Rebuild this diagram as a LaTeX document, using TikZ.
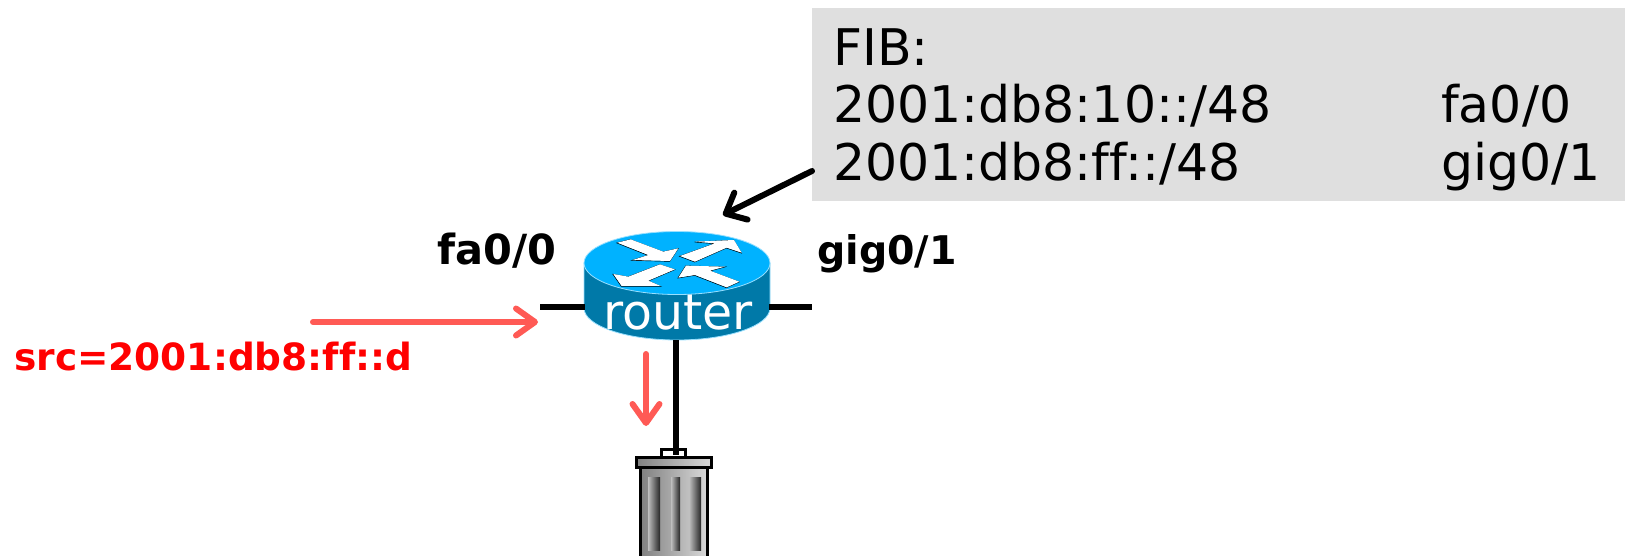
\documentclass[tikz,border=0pt]{standalone}
\usepackage{fontspec}
\setmainfont{DejaVu Sans}[Ligatures=NoCommon]
\usetikzlibrary{positioning}
\usetikzlibrary{arrows.meta}
\definecolor{fibgray}{HTML}{DFDFDF}
\definecolor{pktred}{HTML}{FF5A55}
\definecolor{routertop}{HTML}{00B2FF}
\definecolor{routerside}{HTML}{0079A8}
\newcommand{\arrowpoly}[1]{\draw[arrowshadow] #1 -- cycle; \fill[white] #1 -- cycle;}
\begin{document}
\begin{tikzpicture}[
    x=1pt,y=-1pt,
    fibtext/.style={anchor=base west,inner sep=0pt,font=\fontsize{50.5}{50}\selectfont},
    portlabel/.style={anchor=base west,inner sep=0pt,font=\fontsize{39.5}{39}\selectfont\bfseries},
    wire/.style={line width=5.5pt},
    pktarrow/.style={line width=6pt,pktred,line cap=round,-{Straight Barb[length=19pt,width=27pt,round]}},
    ptrarrow/.style={line width=6pt,line cap=round,-{Straight Barb[length=17pt,width=30pt,round]}},
    arrowshadow/.style={black,line width=.7pt,xshift=-.3pt,yshift=-.3pt},
    trashpart/.style={draw=black,line width=3pt,left color=gray!100,right color=gray!30},
    trashslot/.style={left color=gray!50,right color=black!85}
    ]

    \useasboundingbox (0,0) rectangle (1625,555);

    % fib table
    \node[fill=fibgray,minimum width=813pt,minimum height=193pt,inner sep=0pt] (fib) at (1218.5,104.5) {};
    \node[fibtext] (fibhead) at (833,65) {FIB:};
    \node[fibtext] (prefixa) at (833,122) {2001:db8:10::/48};
    \node[fibtext] (prefixb) at (833,180) {2001:db8:ff::/48};
    \node[fibtext] (porta) at (1441,122) {fa0/0};
    \node[fibtext] (portb) at (1441,180) {gig0/1};

    % router
    \fill[routerside,draw=routertop!40,line width=.8pt] (584,263) -- (584,308) arc[start angle=180,end angle=0,x radius=93,y radius=32] -- (770,263) -- cycle;
    \fill[routertop,draw=routertop!40,line width=.8pt] (677,263) ellipse[x radius=93,y radius=31.5];
    \begin{scope}[shift={(560,210)},x=.3333pt,y=-.3333pt]
      \arrowpoly{(172,98) -- (212,88) -- (310,125) -- (355,115) -- (330,153) -- (218,150) -- (265,135)}
      \arrowpoly{(360,138) -- (465,100) -- (405,95) -- (522,90) -- (545,128) -- (500,113) -- (405,155)}
      \arrowpoly{(205,200) -- (300,163) -- (345,178) -- (265,212) -- (302,228) -- (185,228) -- (160,192)}
      \arrowpoly{(355,203) -- (378,167) -- (495,170) -- (450,182) -- (538,215) -- (500,232) -- (405,195)}
    \end{scope}
    \node[anchor=base,inner sep=0pt,text=white,font=\fontsize{49}{49}\selectfont] (router) at (678,329) {router};

    % trash can
    \coordinate (trash) at (676,455);
    \draw[line width=3pt,fill=white] (661,457) rectangle (685,449);
    \shade[trashpart] (640,467) rectangle (707,557);
    \shade[trashpart] (636,457) rectangle (711,467);
    \shade[trashslot] (648,477) rectangle (660,550);
    \shade[trashslot] (671,477) rectangle (680,550);
    \shade[trashslot] (689,477) rectangle (701,550);

    % ports and wires
    \coordinate (rleft) at (585,307);
    \coordinate (rright) at (769,307);
    \coordinate (rbottom) at (676,340);
    \coordinate (wleft) at (540,307);
    \coordinate (wright) at (812,307);
    \draw[wire] (wleft) -- (rleft);
    \draw[wire] (rright) -- (wright);
    \draw[wire] (rbottom) -- (trash);

    \node[portlabel,font=\fontsize{41.5}{41}\selectfont\bfseries] (lblfa) at (437,264) {fa0/0};
    \node[portlabel] (lblgig) at (817,264) {gig0/1};
    \node[portlabel,text=red,font=\fontsize{37.5}{38}\selectfont\bfseries] (lblsrc) at (14,370) {src=2001:db8:ff::d};

    % arrows
    \coordinate (pktstart) at (313,322);
    \coordinate (pktend) at (538,322);
    \coordinate (dropstart) at (646,354);
    \coordinate (dropend) at (646,426);
    \coordinate (ptrstart) at (812,171);
    \coordinate (ptrend) at (723,215);
    \draw[pktarrow] (pktstart) -- (pktend);
    \draw[pktarrow] (dropstart) -- (dropend);
    \draw[ptrarrow] (ptrstart) -- (ptrend);

  \end{tikzpicture}
\end{document}
